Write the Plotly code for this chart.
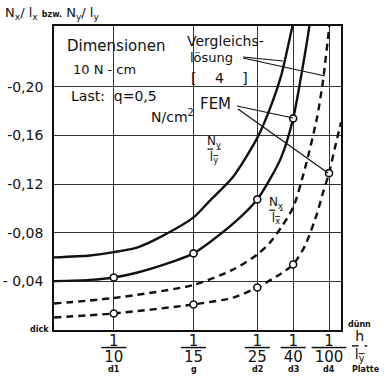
import plotly.graph_objects as go

# ---------------- data ----------------
# x = plate thickness ratio h/l_y, y = N/l (negative)
h_ny_solid = [0.125, 0.11, 0.1, 0.09, 0.08, 1/15, 0.06, 0.05, 0.04, 0.035, 0.03, 0.0254, 0.024]
ny_solid = [-0.0597, -0.0613, -0.064, -0.068, -0.077, -0.0926, -0.106, -0.1263, -0.158, -0.1806, -0.2094, -0.249, -0.26]

h_nx_solid = [0.125, 0.11, 0.1, 0.09, 0.08, 1/15, 0.06, 0.05, 0.04, 0.035, 0.03, 0.025, 0.02125, 0.0183, 0.017]
nx_solid = [-0.0402, -0.0412, -0.0432, -0.0473, -0.0531, -0.063, -0.072, -0.0876, -0.1074, -0.123, -0.142, -0.174, -0.2136, -0.249, -0.27]

h_ny_dashed = [0.125, 0.1, 1/15, 0.05, 0.04, 0.035, 0.03, 0.025, 0.02, 0.015, 0.0125, 0.01, 0.009]
ny_dashed = [-0.0218, -0.0263, -0.037, -0.0498, -0.0621, -0.0712, -0.0844, -0.1008, -0.1333, -0.1748, -0.2053, -0.248, -0.267]

h_nx_dashed = [0.125, 0.1, 1/15, 0.05, 0.04, 0.03, 0.025, 0.02, 0.015, 0.0125, 0.01, 0.0075, 0.005]
nx_dashed = [-0.0103, -0.0136, -0.021, -0.0267, -0.035, -0.0465, -0.0539, -0.0695, -0.0959, -0.1132, -0.129, -0.1502, -0.1708]

# FEM results (circles)
fem_h_solid = [0.1, 1/15, 0.04, 0.025]
fem_nx_solid = [-0.0432, -0.063, -0.1074, -0.174]
fem_h_dashed = [0.1, 1/15, 0.04, 0.025, 0.01]
fem_nx_dashed = [-0.0136, -0.021, -0.035, -0.0539, -0.129]

x_tickvals = [1/10, 1/15, 1/25, 1/40, 1/100]
x_denoms = ["10", "15", "25", "40", "100"]
x_codes = ["d1", "g", "d2", "d3", "d4"]
y_tickvals = [-0.04, -0.08, -0.12, -0.16, -0.20]
y_ticktext = ["- 0,04", "-0,08", "-0,12", "-0,16", "-0,20"]

FONT = "DejaVu Sans"
BLACK = "#111111"

fig = go.Figure()

def curve(x, y, dash):
    fig.add_trace(go.Scatter(x=x, y=y, mode="lines",
                             line=dict(color=BLACK, width=2.4, dash=dash, shape="spline", smoothing=0.7),
                             showlegend=False, hoverinfo="skip"))

curve(h_ny_solid, ny_solid, "solid")
curve(h_nx_solid, nx_solid, "solid")
curve(h_ny_dashed, ny_dashed, "7px,5px")
curve(h_nx_dashed, nx_dashed, "7px,5px")

for hx, vy in [(fem_h_solid, fem_nx_solid), (fem_h_dashed, fem_nx_dashed)]:
    fig.add_trace(go.Scatter(x=hx, y=vy, mode="markers",
                             marker=dict(symbol="circle", size=7, color="white",
                                         line=dict(color=BLACK, width=1.6)),
                             showlegend=False, hoverinfo="skip"))

x_ticktext = [
    "<span style='font-size:15px'>1</span><br>"
    f"<span style='font-size:15px;text-decoration:overline'>\u2009{d}\u2009</span>"
    for d in x_denoms
]

fig.update_xaxes(range=[0.125, 0.005], tickvals=x_tickvals, ticktext=x_ticktext,
                 tickfont=dict(family=FONT, size=12, color=BLACK),
                 showgrid=True, gridcolor="#333333", gridwidth=1,
                 showline=True, mirror=True, linecolor=BLACK, linewidth=1.6,
                 zeroline=False, ticks="", ticklabelstandoff=0, automargin=False)
fig.update_yaxes(range=[0, -0.25], tickvals=y_tickvals, ticktext=y_ticktext,
                 tickfont=dict(family=FONT, size=14, color=BLACK),
                 showgrid=True, gridcolor="#333333", gridwidth=1,
                 showline=True, mirror=True, linecolor=BLACK, linewidth=1.6,
                 zeroline=False, ticks="", ticklabelstandoff=6, automargin=False)

L, R, T, B = 54, 45, 26, 50
W, H = 386, 380
PW, PH = W - L - R, H - T - B

def px(x):
    return (x - L) / PW

def py(y):
    return (H - B - y) / PH

def ann(text, x, y, size, xanchor="left", yanchor="middle", bold=False, xref="paper"):
    fig.add_annotation(text=f"<b>{text}</b>" if bold else text, xref=xref, yref="paper",
                       x=px(x) if xref == "paper" else x, y=py(y), xanchor=xanchor, yanchor=yanchor,
                       showarrow=False, font=dict(family=FONT, size=size, color=BLACK),
                       bgcolor="rgba(0,0,0,0)", borderpad=0)

# plate codes under the x tick fractions
for tv, c in zip(x_tickvals, x_codes):
    ann(c, tv, 369, 8, xanchor="center", bold=True, xref="x")

# texts
ann("N<sub>x</sub>/ l<sub>x</sub> <span style='font-size:8px'><b>bzw.</b></span> N<sub>y</sub>/ l<sub>y</sub>", 4, 14, 13)
ann("Dimensionen", 66, 46, 15)
ann("10 N - cm", 72, 69, 13)
ann("Last:  q=0,5", 70, 96, 14)
ann("N/cm<sup>2</sup>", 150, 116, 14)
ann("Vergleichs-", 186, 41, 14)
ann("lösung", 189, 57, 13)
ann("[\u2003 4 \u2003]", 190, 78, 14)
ann("FEM", 199, 104, 15)
ann("N<sub>y</sub><br><span style='text-decoration:overline'>\u2009l<sub>y</sub>\u2009</span>", 214, 149, 12, xanchor="center")
ann("N<sub>x</sub><br><span style='text-decoration:overline'>\u2009l<sub>x</sub>\u2009</span>", 276, 210, 12, xanchor="center")
ann("dick", 50, 329, 8, xanchor="right", bold=True)
ann("dünn", 359, 324, 8, xanchor="center", bold=True)
ann("h<br><span style='text-decoration:overline'>\u2009l<sub>y</sub>\u2009</span>", 360, 346, 14, xanchor="center")
ann("Platte", 366, 369, 8, xanchor="center", bold=True)

# pointer lines
def seg(x0, y0, x1, y1):
    fig.add_shape(type="line", xref="paper", yref="paper",
                  x0=px(x0), y0=py(y0), x1=px(x1), y1=py(y1),
                  line=dict(color=BLACK, width=1.2))

seg(243, 57, 283, 61)
seg(243, 58, 325, 76)
seg(237, 106, 293, 118)
seg(238, 109, 328, 173)

fig.update_layout(width=W, height=H, margin=dict(l=L, r=R, t=T, b=B, autoexpand=False),
                  paper_bgcolor="white", plot_bgcolor="white",
                  font=dict(family=FONT, color=BLACK))

fig.write_html("out.html", config={"displayModeBar": False},
               post_script="document.body.style.margin='0';document.body.style.overflow='hidden';")
